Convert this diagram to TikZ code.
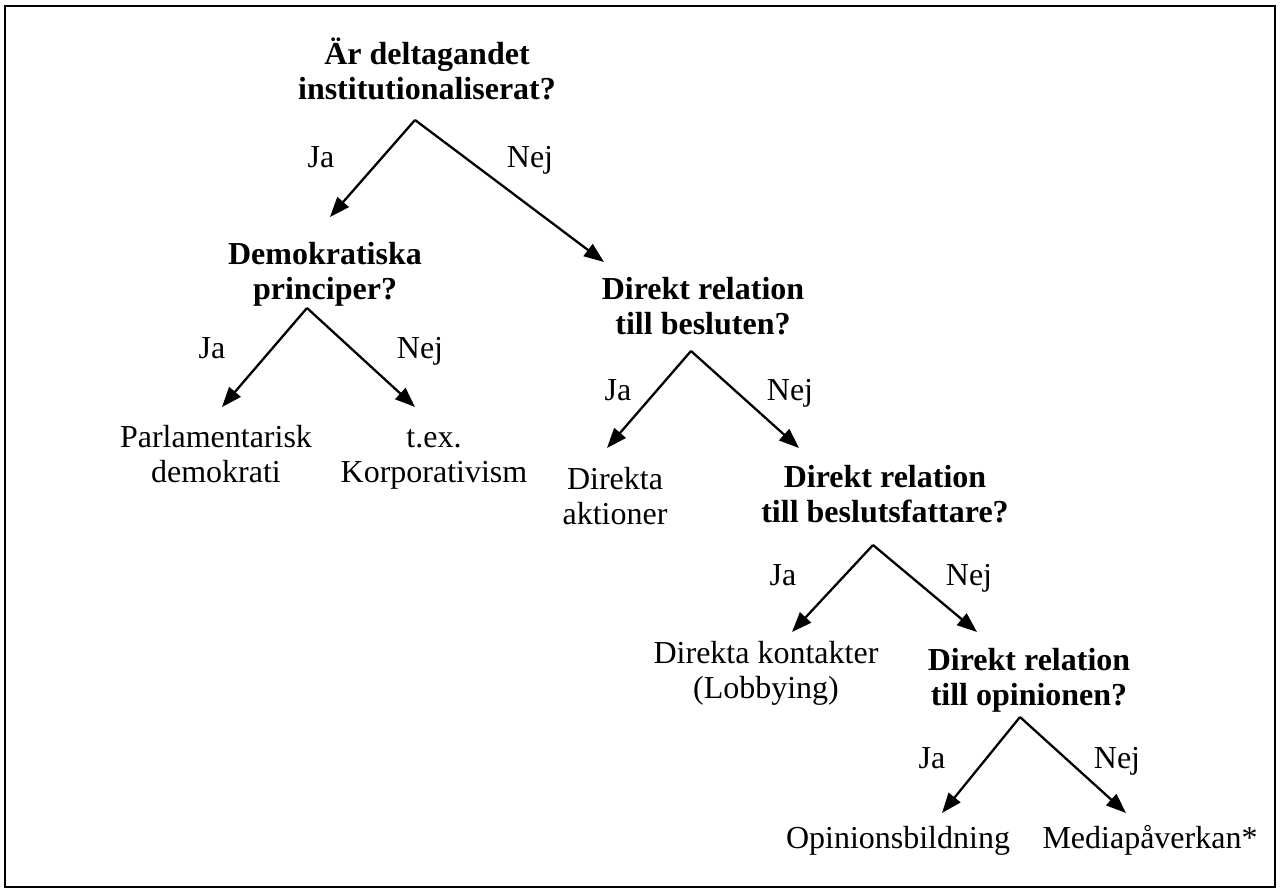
\documentclass[tikz,border=0pt]{standalone}
\usepackage{fontspec}
\setmainfont{Liberation Serif}
\usetikzlibrary{arrows.meta}
\newcommand{\twol}[2]{\begin{tabular}[t]{@{}c@{}}#1\\#2\end{tabular}}
\begin{document}
\begin{tikzpicture}[x=1pt,y=-1pt,
  every node/.style={inner sep=0pt,outer sep=0pt,font=\fontsize{32}{35}\selectfont},
  q/.style={anchor=base,font=\fontsize{32}{35}\selectfont\bfseries},
  leaf/.style={anchor=base},
  lbl/.style={anchor=base},
  arr/.style={line width=2.3pt,-{Triangle[length=20pt,width=15pt]}}]
\useasboundingbox (0,0) rectangle (1280,893);
\draw[line width=2pt] (5,6) rectangle (1275,887);

% nodes
\node[q] (R) at (427,65) {\twol{Är deltagandet}{institutionaliserat?}};
\node[q] (D) at (325,265) {\twol{Demokratiska}{principer?}};
\node[leaf] (P) at (216,447) {\twol{Parlamentarisk}{demokrati}};
\node[leaf] (K) at (434,447) {\twol{t.ex.}{Korporativism}};
\node[q] (B1) at (703,300) {\twol{Direkt relation}{till besluten?}};
\node[leaf] (DA) at (615,489) {\twol{Direkta}{aktioner}};
\node[q] (B2) at (885,487) {\twol{Direkt relation}{till beslutsfattare?}};
\node[leaf] (DK) at (766,663) {\twol{Direkta kontakter}{(Lobbying)}};
\node[q] (B3) at (1029,670) {\twol{Direkt relation}{till opinionen?}};
\node[leaf] (O) at (898,848) {Opinionsbildning};
\node[leaf] (M) at (1150,848) {Mediapåverkan*};

% branch points and arrow ends
\coordinate (R-o) at (415,120);
\coordinate (D-i) at (330,217);
\coordinate (B1-i) at (604,262);
\coordinate (D-o) at (307,308);
\coordinate (P-i) at (222,407);
\coordinate (K-i) at (415,407);
\coordinate (B1-o) at (691,351);
\coordinate (DA-i) at (607,448);
\coordinate (B2-i) at (799,448);
\coordinate (B2-o) at (873,545);
\coordinate (DK-i) at (792,632);
\coordinate (B3-i) at (977,632);
\coordinate (B3-o) at (1020,717);
\coordinate (O-i) at (942,813);
\coordinate (M-i) at (1126,813);

\draw[arr] (R-o) -- (D-i);
\draw[arr] (R-o) -- (B1-i);
\draw[arr] (D-o) -- (P-i);
\draw[arr] (D-o) -- (K-i);
\draw[arr] (B1-o) -- (DA-i);
\draw[arr] (B1-o) -- (B2-i);
\draw[arr] (B2-o) -- (DK-i);
\draw[arr] (B2-o) -- (B3-i);
\draw[arr] (B3-o) -- (O-i);
\draw[arr] (B3-o) -- (M-i);

% labels
\node[lbl] (j1) at (321,168) {Ja};
\node[lbl] (n1) at (530,168) {Nej};
\node[lbl] (j2) at (212,359) {Ja};
\node[lbl] (n2) at (420,359) {Nej};
\node[lbl] (j3) at (618,400) {Ja};
\node[lbl] (n3) at (790,400) {Nej};
\node[lbl] (j4) at (783,585) {Ja};
\node[lbl] (n4) at (969,585) {Nej};
\node[lbl] (j5) at (932,768) {Ja};
\node[lbl] (n5) at (1117,768) {Nej};
\end{tikzpicture}
\end{document}
